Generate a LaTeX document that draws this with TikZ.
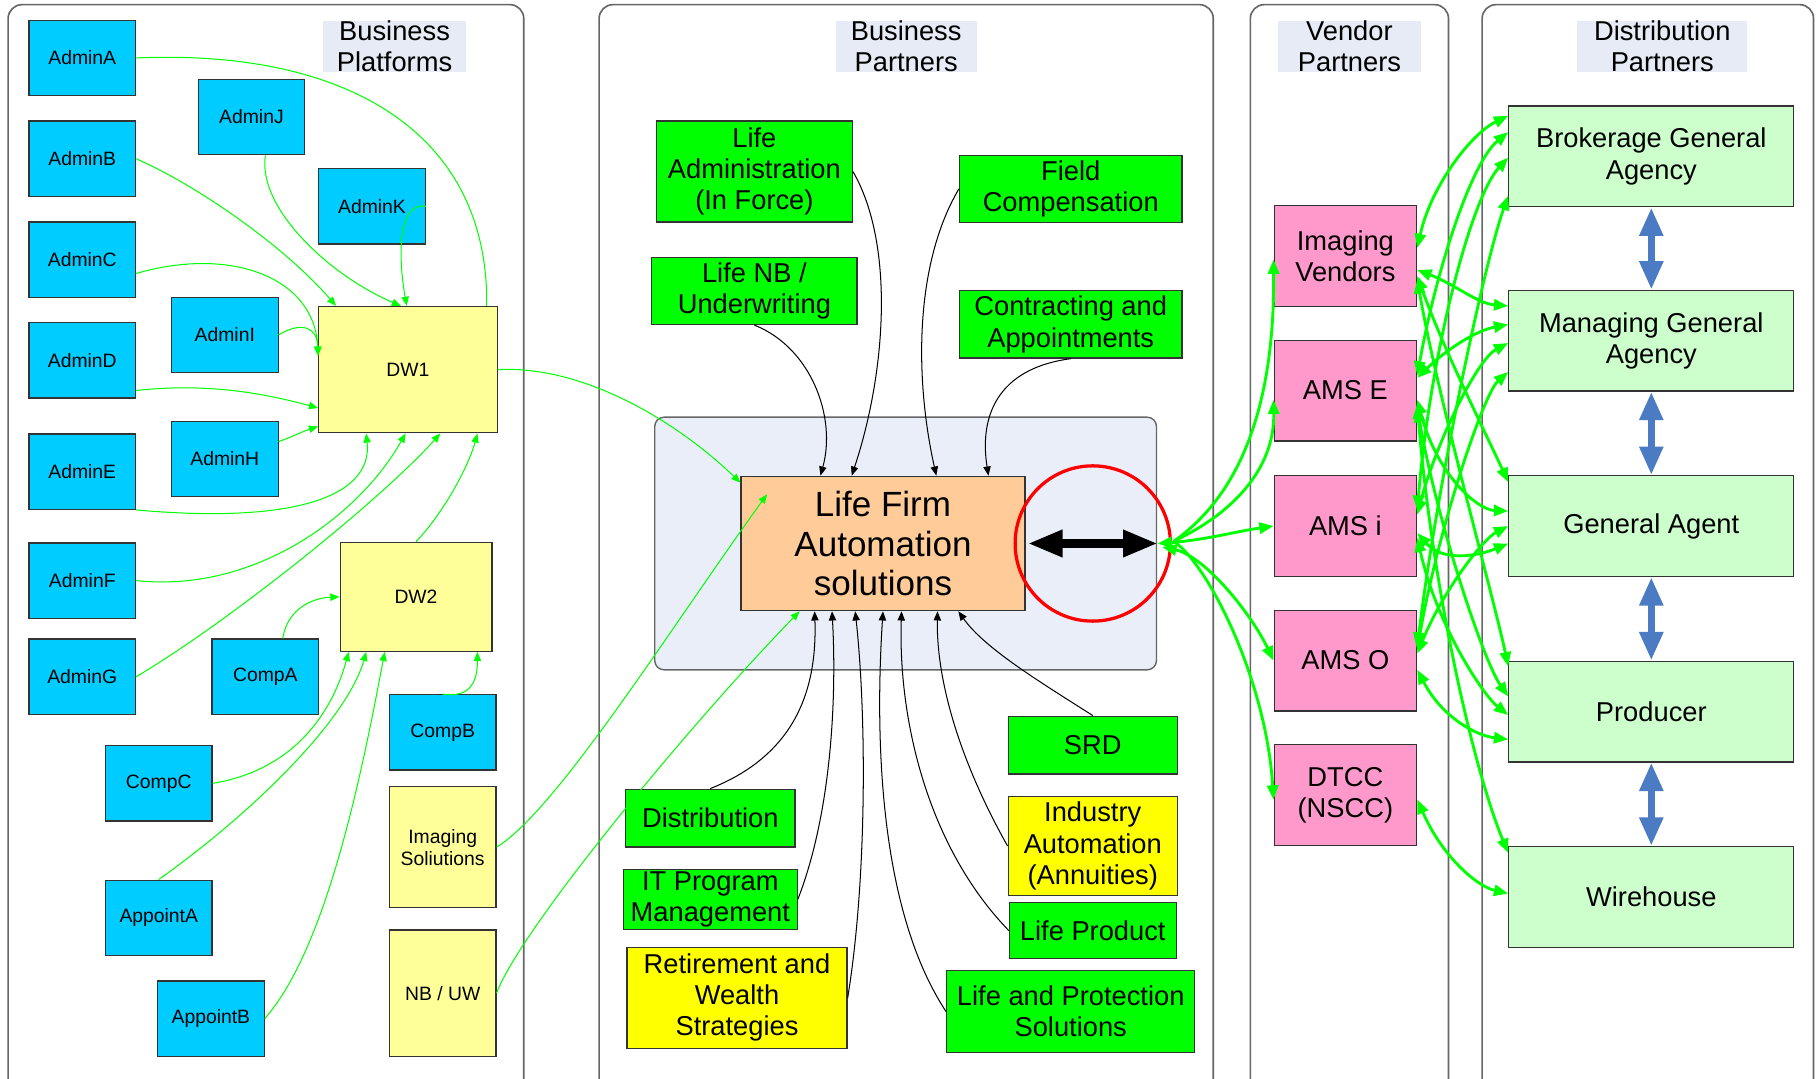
\documentclass[tikz,border=0pt]{standalone}
\usepackage{fontspec}
\setmainfont{Liberation Sans}
\usetikzlibrary{arrows.meta}
\definecolor{cyanbox}{HTML}{00CCFF}
\definecolor{paleyel}{HTML}{FFFF99}
\definecolor{grnbox}{HTML}{00FF00}
\definecolor{yelbox}{HTML}{FFFF00}
\definecolor{orgbox}{HTML}{FFCC99}
\definecolor{pinkbox}{HTML}{FF99CC}
\definecolor{palegrn}{HTML}{CCFFCC}
\definecolor{hdrbg}{HTML}{E6EBF5}
\definecolor{platbg}{HTML}{E9EEF8}
\definecolor{grn}{HTML}{00FF00}
\definecolor{bluearr}{HTML}{4A7BC3}
\newcommand\mysmall{\fontsize{9.5}{10.8}\selectfont}
\newcommand\mybig{\fontsize{13.4}{15.3}\selectfont}
\newcommand\myhuge{\fontsize{17.2}{19.6}\selectfont}
\tikzset{
  panel/.style={draw=black!60, line width=0.8pt, rounded corners=0.24cm},
  sz/.style 2 args={minimum width={#1*0.02cm}, minimum height={#2*0.02cm}},
  ox/.style={xshift={#1*0.02cm}},
  oy/.style={yshift={-(#1)*0.02cm}},
  bx/.style={draw=black!80, line width=0.6pt, inner sep=1pt, align=center},
  sbox/.style={bx, font=\mysmall},
  lbox/.style={bx, font=\mybig},
  hdr/.style={fill=hdrbg, inner sep=0pt, align=center, font=\mybig},
  gl/.style={draw=grn, line width=0.5pt, -{Triangle[length=4.5pt,width=3.6pt]}},
  gln/.style={draw=grn, line width=0.5pt},
  bl/.style={draw=black, line width=0.5pt, -{Triangle[length=4.5pt,width=3.6pt]}},
  gt/.style={draw=grn, line width=1.4pt, {Triangle[length=7pt,width=5.5pt]}-{Triangle[length=7pt,width=5.5pt]}},
  gto/.style={draw=grn, line width=1.4pt, -{Triangle[length=7pt,width=5.5pt]}},
  bb/.style={draw=bluearr, line width=3.5pt, {Triangle[length=14pt,width=11pt]}-{Triangle[length=14pt,width=11pt]}},
}
\begin{document}
\begin{tikzpicture}[x=0.02cm, y=-0.02cm]
\useasboundingbox (0,0) rectangle (1568,931);
\fill[white] (0,0) rectangle (1568,931);
% panels
\draw[panel] (7,4) rectangle (452,945);
\draw[panel] (517,4) rectangle (1047,945);
\draw[panel] (1079,4) rectangle (1250,945);
\draw[panel] (1279,4) rectangle (1565,945);
% headers
\node[hdr, sz={123}{44}] (h1) at (340.5,40) {Business\\Platforms};
\node[hdr, sz={122}{44}] (h2) at (782,40) {Business\\Partners};
\node[hdr, sz={123}{44}] (h3) at (1164.5,40) {Vendor\\Partners};
\node[hdr, sz={147}{44}] (h4) at (1434.5,40) {Distribution\\Partners};

% ---------- Business Platforms ----------
\node[sbox, fill=cyanbox, sz={92}{65}] (adminA) at (71,50) {AdminA};
\node[sbox, fill=cyanbox, sz={92}{65}] (adminB) at (71,137) {AdminB};
\node[sbox, fill=cyanbox, sz={92}{65}] (adminC) at (71,224) {AdminC};
\node[sbox, fill=cyanbox, sz={92}{65}] (adminD) at (71,311) {AdminD};
\node[sbox, fill=cyanbox, sz={92}{65}] (adminE) at (71,407) {AdminE};
\node[sbox, fill=cyanbox, sz={92}{65}] (adminF) at (71,501) {AdminF};
\node[sbox, fill=cyanbox, sz={92}{65}] (adminG) at (71,584) {AdminG};
\node[sbox, fill=cyanbox, sz={92}{65}] (adminJ) at (217,101) {AdminJ};
\node[sbox, fill=cyanbox, sz={92}{65}] (adminK) at (321,178) {AdminK};
\node[sbox, fill=cyanbox, sz={92}{65}] (adminI) at (194,289) {AdminI};
\node[sbox, fill=cyanbox, sz={92}{65}] (adminH) at (194,396) {AdminH};
\node[sbox, fill=cyanbox, sz={92}{65}] (compA) at (229,584) {CompA};
\node[sbox, fill=cyanbox, sz={92}{65}] (compB) at (382,632) {CompB};
\node[sbox, fill=cyanbox, sz={92}{65}] (compC) at (137,676) {CompC};
\node[sbox, fill=cyanbox, sz={92}{65}] (appA) at (137,792) {AppointA};
\node[sbox, fill=cyanbox, sz={92}{65}] (appB) at (182,879) {AppointB};
\node[sbox, fill=paleyel, sz={154}{109}] (dw1) at (352,319) {DW1};
\node[sbox, fill=paleyel, sz={131}{94}] (dw2) at (359,515) {DW2};
\node[sbox, fill=paleyel, sz={92}{104}] (imgsol) at (382,731) {Imaging\\Soliutions};
\node[sbox, fill=paleyel, sz={92}{109}] (nbuw) at (382,857) {NB / UW};

% ---------- Business Partners ----------
\draw[draw=black!60, line width=0.7pt, fill=platbg, rounded corners=0.16cm] (565,360) rectangle (998,578);
\node[lbox, fill=grnbox, sz={169}{87}] (lifeAdm) at (651,148) {Life\\Administration\\(In Force)};
\node[lbox, fill=grnbox, sz={177}{58}] (lifeNB) at (651,251) {Life NB /\\Underwriting};
\node[lbox, fill=grnbox, sz={192}{58}] (field) at (924,163) {Field\\Compensation};
\node[lbox, fill=grnbox, sz={192}{58}] (contract) at (924,280) {Contracting and\\Appointments};
\node[bx, font=\myhuge, fill=orgbox, sz={245}{116}] (lf) at (762,469) {Life Firm\\Automation\\solutions};
\node[lbox, fill=grnbox, sz={146}{50}] (distrib) at (613,706) {Distribution};
\node[lbox, fill=grnbox, sz={150}{52}] (itpm) at (613,776) {IT Program\\Management};
\node[lbox, fill=yelbox, sz={190}{87}] (retire) at (636,861) {Retirement and\\Wealth\\Strategies};
\node[lbox, fill=grnbox, sz={146}{50}] (srd) at (943,643) {SRD};
\node[lbox, fill=yelbox, sz={146}{86}] (indauto) at (943,730) {Industry\\Automation\\(Annuities)};
\node[lbox, fill=grnbox, sz={144}{48}] (lifeprod) at (943,803) {Life Product};
\node[lbox, fill=grnbox, sz={214}{71}] (lifeprot) at (924,873) {Life and Protection\\Solutions};
\node[draw=red, line width=1.6pt, circle, inner sep=0pt, minimum size={134*0.02cm}] (ring) at (943,469) {};
\coordinate (hub) at (999,469);
\coordinate (hub2) at (1013,467);
\draw[line width=4pt, {Triangle[length=17pt,width=12.5pt]}-{Triangle[length=17pt,width=12.5pt]}] ([ox=2]lf.east) -- (hub);

% ---------- Vendor Partners ----------
\node[lbox, fill=pinkbox, sz={123}{87}] (iv) at (1161,221) {Imaging\\Vendors};
\node[lbox, fill=pinkbox, sz={123}{87}] (amsE) at (1161,337) {AMS E};
\node[lbox, fill=pinkbox, sz={123}{87}] (amsI) at (1161,454) {AMS i};
\node[lbox, fill=pinkbox, sz={123}{87}] (amsO) at (1161,570) {AMS O};
\node[lbox, fill=pinkbox, sz={123}{87}] (dtcc) at (1161,686) {DTCC\\(NSCC)};

% ---------- Distribution Partners ----------
\node[lbox, fill=palegrn, sz={246}{87}] (bga) at (1425,135) {Brokerage General\\Agency};
\node[lbox, fill=palegrn, sz={246}{87}] (mga) at (1425,294) {Managing General\\Agency};
\node[lbox, fill=palegrn, sz={246}{87}] (ga) at (1425,454) {General Agent};
\node[lbox, fill=palegrn, sz={246}{87}] (prod) at (1425,614) {Producer};
\node[lbox, fill=palegrn, sz={246}{87}] (wire) at (1425,774) {Wirehouse};
\draw[bb] (bga.south) -- (mga.north);
\draw[bb] (mga.south) -- (ga.north);
\draw[bb] (ga.south) -- (prod.north);
\draw[bb] (prod.south) -- (wire.north);

% ---------- thin green connectors (platforms) ----------
\draw[gln] (adminA.east) .. controls (300,42) and (422,115) .. ([ox=68]dw1.north);
\draw[gl] (adminB.east) .. controls (170,160) and (245,212) .. ([ox=-62]dw1.north);
\draw[gl] ([ox=12]adminJ.south) .. controls (222,180) and (285,238) .. ([ox=-6]dw1.north);
\draw[gl] (adminK.east) .. controls (342,174) and (344,225) .. ([ox=-1]dw1.north);
\draw[gl] ([oy=12]adminC.east) .. controls (200,212) and (272,240) .. ([oy=-12]dw1.west);
\draw[gl] (adminI.east) .. controls (262,276) and (274,284) .. ([oy=-12]dw1.west);
\draw[gl] ([oy=26]adminD.east) .. controls (180,330) and (230,340) .. ([oy=33]dw1.west);
\draw[gl] ([oy=-15]adminH.east) .. controls (252,377) and (262,372) .. ([oy=49]dw1.west);
\draw[gl] (adminE.south east) .. controls (250,452) and (322,430) .. ([ox=-36]dw1.south);
\draw[gl] (adminF.east) .. controls (220,512) and (310,445) .. ([ox=-2]dw1.south);
\draw[gl] (adminG.east) .. controls (200,535) and (330,430) .. ([ox=28]dw1.south);
\draw[gl] (dw2.north) .. controls (385,440) and (405,400) .. ([ox=60]dw1.south);
\draw[gl] ([ox=15]compA.north) .. controls (248,525) and (270,516) .. (dw2.west);
\draw[gl] (compB.north) .. controls (408,603) and (412,585) .. ([ox=53]dw2.south);
\draw[gl] (compC.east) .. controls (250,665) and (285,620) .. ([ox=-58]dw2.south);
\draw[gl] (appA.north) .. controls (220,700) and (300,620) .. ([ox=-43]dw2.south);
\draw[gl] (appB.east) .. controls (280,820) and (310,680) .. ([ox=-27]dw2.south);
\draw[gl] (dw1.east) .. controls (500,315) and (580,360) .. ([oy=6]lf.north west);
\draw[gl] (imgsol.east) .. controls (480,700) and (580,540) .. ([ox=23,oy=16]lf.north west);
\draw[gl] (nbuw.east) .. controls (450,800) and (600,620) .. ([ox=-72]lf.south);

% ---------- black connectors ----------
\draw[bl] (lifeNB.south) .. controls (700,300) and (722,360) .. ([ox=-54]lf.north);
\draw[bl] (lifeAdm.east) .. controls (772,210) and (765,320) .. ([ox=-27]lf.north);
\draw[bl] (field.west) .. controls (788,230) and (790,330) .. ([ox=46]lf.north);
\draw[bl] (contract.south) .. controls (860,318) and (845,360) .. ([ox=91]lf.north);
\draw[bl] (distrib.north) .. controls (690,650) and (705,590) .. ([ox=-59]lf.south);
\draw[bl] (itpm.east) .. controls (718,700) and (722,600) .. ([ox=-44]lf.south);
\draw[bl] (retire.east) .. controls (748,760) and (748,620) .. ([ox=-24]lf.south);
\draw[bl] (lifeprot.west) .. controls (755,780) and (756,620) .. (lf.south);
\draw[bl] (lifeprod.west) .. controls (800,730) and (775,620) .. ([ox=16]lf.south);
\draw[bl] (indauto.west) .. controls (830,660) and (808,590) .. ([ox=47]lf.south);
\draw[bl] (srd.north) .. controls (900,590) and (850,560) .. ([ox=65]lf.south);

% ---------- thick green: hub to vendors ----------
\draw[gto] (hub2) .. controls (1080,420) and (1100,330) .. ([oy=3]iv.west);
\draw[gto] (hub2) .. controls (1070,440) and (1100,400) .. ([oy=8]amsE.west);
\draw[gt] (hub) .. controls (1040,466) and (1070,458) .. (amsI.west);
\draw[gt] ([ox=4,oy=3]hub) .. controls (1040,480) and (1080,530) .. (amsO.west);
\draw[gto] (hub2) .. controls (1045,490) and (1093,590) .. ([oy=4]dtcc.west);

% ---------- thick green: vendors to distribution ----------
\draw[gt] ([oy=-7]iv.east) .. controls (1235,160) and (1270,115) .. ([oy=-35]bga.west);
\draw[gt] ([oy=12]iv.east) .. controls (1255,245) and (1275,262) .. ([oy=-30]mga.west);
\draw[gt] ([oy=17]iv.east) .. controls (1245,300) and (1285,380) .. ([oy=-38]ga.west);
\draw[gt] ([oy=20]iv.east) .. controls (1240,340) and (1290,520) .. ([oy=-39]prod.west);
\draw[gt] ([oy=-13]amsE.east) .. controls (1240,230) and (1270,140) .. ([oy=-21]bga.west);
\draw[gt] ([oy=-11]amsE.east) .. controls (1250,300) and (1275,285) .. ([oy=-14]mga.west);
\draw[gt] ([oy=8]amsE.east) .. controls (1240,410) and (1275,440) .. ([oy=-13]ga.west);
\draw[gt] ([oy=12]amsE.east) .. controls (1235,500) and (1270,660) .. ([oy=-38]wire.west);
\draw[gt] ([oy=15]amsE.east) .. controls (1240,450) and (1280,570) .. ([oy=-13]prod.west);
\draw[gt] ([oy=-14]amsI.east) .. controls (1235,300) and (1270,170) .. ([oy=1]bga.west);
\draw[gt] ([oy=-10]amsI.east) .. controls (1240,380) and (1275,310) .. ([oy=2]mga.west);
\draw[gt] ([oy=6]amsI.east) .. controls (1245,485) and (1275,480) .. ([oy=15]ga.west);
\draw[gt] ([oy=10]amsI.east) .. controls (1240,540) and (1280,600) .. ([oy=3]prod.west);
\draw[gt] ([oy=-12]amsO.east) .. controls (1240,420) and (1280,230) .. ([oy=34]bga.west);
\draw[gt] ([oy=-9]amsO.east) .. controls (1240,460) and (1280,340) .. ([oy=27]mga.west);
\draw[gt] ([oy=-6]amsO.east) .. controls (1245,510) and (1280,465) .. (ga.west);
\draw[gt] ([oy=8]amsO.east) .. controls (1245,620) and (1275,635) .. ([oy=24]prod.west);
\draw[gt] ([oy=4]dtcc.east) .. controls (1245,740) and (1275,765) .. ([oy=-3]wire.west);
\end{tikzpicture}
\end{document}
